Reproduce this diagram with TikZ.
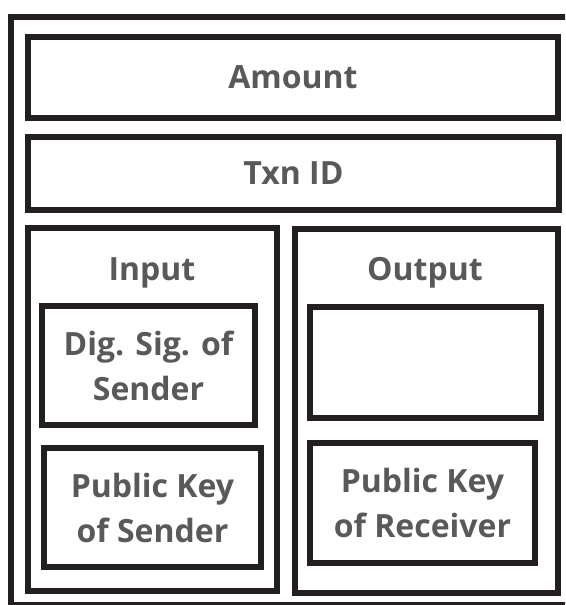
\documentclass[tikz,border=0pt]{standalone}
\usepackage{fontspec}
\setmainfont{Open Sans}
\usepackage{tikz}

\definecolor{lineblk}{HTML}{231F20}
\definecolor{txtgray}{HTML}{58595B}

\tikzset{
  box/.style={draw=lineblk,line width=6.5pt,inner sep=0pt,text=txtgray,
    font=\fontsize{32}{47}\selectfont\bfseries,align=center},
  title/.style={text=txtgray,inner sep=0pt,anchor=base,
    font=\fontsize{32}{47}\selectfont\bfseries}
}

\begin{document}
\begin{tikzpicture}[x=1pt,y=-1pt]
  \clip (0,0) rectangle (565,605);
  \node[box,line width=6pt,minimum width=629,minimum height=588] (frame) at (325.5,311) {};
  \node[box,minimum width=530,minimum height=81] (amount) at (293,77.5) {\raisebox{-2pt}{Amount}};
  \node[box,minimum width=531,minimum height=73] (txn) at (293.5,173.5) {\raisebox{-2pt}{Txn ID}};
  \node[box,minimum width=249,minimum height=363] (input) at (152.5,409.5) {};
  \node[box,minimum width=263,minimum height=364] (output) at (426.5,411) {};
  \node[title] (inlbl) at (152,280) {Input};
  \node[title] (outlbl) at (425,280) {Output};
  \node[box,minimum width=213,minimum height=119] (sig) at (148.5,365.5) {\raisebox{-2pt}{Dig. Sig. of}\\Sender};
  \node[box,minimum width=217,minimum height=119] (pksend) at (152.5,507.5) {\raisebox{-2pt}{Public Key}\\of Sender};
  \node[box,minimum width=231,minimum height=111] (blank) at (425.5,362.5) {};
  \node[box,minimum width=225,minimum height=120] (pkrecv) at (422.5,503) {\raisebox{-2pt}{Public Key}\\of Receiver};
\end{tikzpicture}
\end{document}
